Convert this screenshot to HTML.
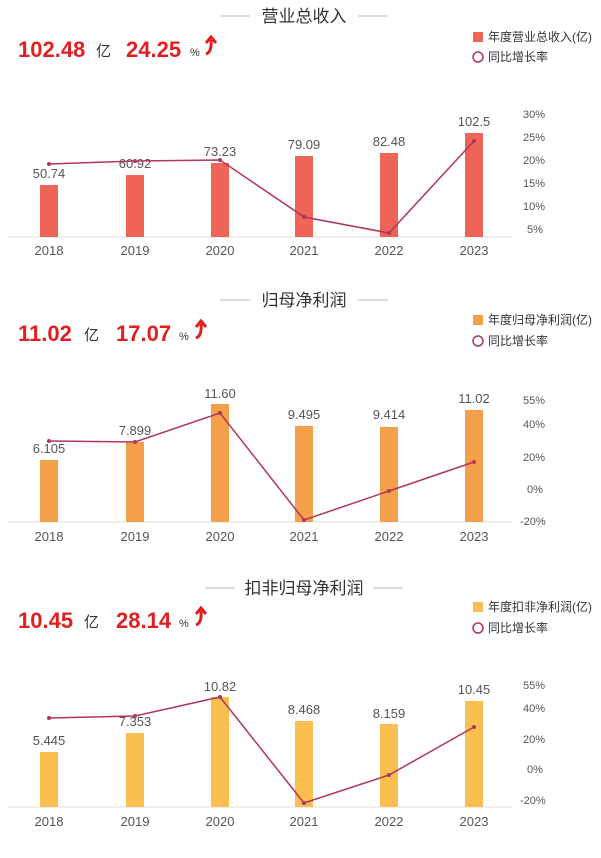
<!DOCTYPE html><html><head><meta charset="utf-8"><style>
body{margin:0;background:#fff;width:601px;height:853px;overflow:hidden;font-family:"Liberation Sans","Noto Sans CJK SC",sans-serif}
svg text{font-family:"Liberation Sans","Noto Sans CJK SC",sans-serif}
</style></head><body>
<svg width="601" height="853" xmlns="http://www.w3.org/2000/svg">
<defs><g id="arr"><path d="M0,14 Q6,12 5,0" fill="none" stroke="#e02020" stroke-width="3"/><path d="M0,3 L5,-3 L10,3" fill="none" stroke="#e02020" stroke-width="3"/></g></defs>
<g id="s1">
<line x1="220" y1="16" x2="250" y2="16" stroke="#bbb"/><line x1="358" y1="16" x2="388" y2="16" stroke="#bbb"/>
<text x="304" y="22" font-size="17" fill="#333" text-anchor="middle">营业总收入</text>
<text x="18" y="57" font-size="22" font-weight="bold" fill="#e02020">102.48</text>
<text x="96" y="56" font-size="15" fill="#333">亿</text>
<text x="126" y="57" font-size="22" font-weight="bold" fill="#e02020">24.25</text>
<text x="190" y="56" font-size="11" fill="#333">%</text>
<use href="#arr" x="206" y="40"/>
<rect x="473" y="32" width="10" height="10" fill="#ee6557"/><text x="488" y="41" font-size="12" fill="#333">年度营业总收入(亿)</text>
<circle cx="478" cy="57" r="5" fill="none" stroke="#b0365a" stroke-width="1.5"/><text x="488" y="61" font-size="12" fill="#333">同比增长率</text>
<line x1="8" y1="237" x2="512" y2="237" stroke="#ddd"/>
<g fill="#ee6557"><rect x="40" y="185" width="18" height="52"/><rect x="126" y="175" width="18" height="62"/><rect x="211" y="163" width="18" height="74"/><rect x="295" y="156" width="18" height="81"/><rect x="380" y="153" width="18" height="84"/><rect x="465" y="133" width="18" height="104"/></g>
<g font-size="13" fill="#555" text-anchor="middle"><text x="49" y="178">50.74</text><text x="135" y="168">60.92</text><text x="220" y="156">73.23</text><text x="304" y="149">79.09</text><text x="389" y="146">82.48</text><text x="474" y="126">102.5</text></g>
<polyline points="49,164 135,161 220,160 304,217 389,233 474,141" fill="none" stroke="#b0365a" stroke-width="1.5"/>
<g fill="#b0365a"><circle cx="49" cy="164" r="2"/><circle cx="135" cy="161" r="2"/><circle cx="220" cy="160" r="2"/><circle cx="304" cy="217" r="2"/><circle cx="389" cy="233" r="2"/><circle cx="474" cy="141" r="2"/></g>
<g font-size="11" fill="#555"><text x="523" y="118">30%</text><text x="523" y="141">25%</text><text x="523" y="164">20%</text><text x="523" y="187">15%</text><text x="523" y="210">10%</text><text x="527" y="233">5%</text></g>
<g font-size="13" fill="#555" text-anchor="middle"><text x="49" y="255">2018</text><text x="135" y="255">2019</text><text x="220" y="255">2020</text><text x="304" y="255">2021</text><text x="389" y="255">2022</text><text x="474" y="255">2023</text></g>
</g>
<g id="s2">
<line x1="220" y1="300" x2="250" y2="300" stroke="#bbb"/><line x1="358" y1="300" x2="388" y2="300" stroke="#bbb"/>
<text x="304" y="306" font-size="17" fill="#333" text-anchor="middle">归母净利润</text>
<text x="18" y="341" font-size="22" font-weight="bold" fill="#e02020">11.02</text>
<text x="84" y="340" font-size="15" fill="#333">亿</text>
<text x="116" y="341" font-size="22" font-weight="bold" fill="#e02020">17.07</text>
<text x="179" y="340" font-size="11" fill="#333">%</text>
<use href="#arr" x="196" y="324"/>
<rect x="473" y="315" width="10" height="10" fill="#f4a04a"/><text x="488" y="324" font-size="12" fill="#333">年度归母净利润(亿)</text>
<circle cx="478" cy="341" r="5" fill="none" stroke="#b0365a" stroke-width="1.5"/><text x="488" y="345" font-size="12" fill="#333">同比增长率</text>
<line x1="8" y1="522" x2="512" y2="522" stroke="#ddd"/>
<g fill="#f4a04a"><rect x="40" y="460" width="18" height="62"/><rect x="126" y="442" width="18" height="80"/><rect x="211" y="404" width="18" height="118"/><rect x="295" y="426" width="18" height="96"/><rect x="380" y="427" width="18" height="95"/><rect x="465" y="410" width="18" height="112"/></g>
<g font-size="13" fill="#555" text-anchor="middle"><text x="49" y="453">6.105</text><text x="135" y="435">7.899</text><text x="220" y="398">11.60</text><text x="304" y="419">9.495</text><text x="389" y="419">9.414</text><text x="474" y="403">11.02</text></g>
<polyline points="49,441 135,442 220,413 304,520 389,491 474,462" fill="none" stroke="#b0365a" stroke-width="1.5"/>
<g fill="#b0365a"><circle cx="49" cy="441" r="2"/><circle cx="135" cy="442" r="2"/><circle cx="220" cy="413" r="2"/><circle cx="304" cy="520" r="2"/><circle cx="389" cy="491" r="2"/><circle cx="474" cy="462" r="2"/></g>
<g font-size="11" fill="#555"><text x="523" y="404">55%</text><text x="523" y="428">40%</text><text x="523" y="461">20%</text><text x="527" y="493">0%</text><text x="520" y="525">-20%</text></g>
<g font-size="13" fill="#555" text-anchor="middle"><text x="49" y="541">2018</text><text x="135" y="541">2019</text><text x="220" y="541">2020</text><text x="304" y="541">2021</text><text x="389" y="541">2022</text><text x="474" y="541">2023</text></g>
</g>
<g id="s3">
<line x1="205" y1="588" x2="235" y2="588" stroke="#bbb"/><line x1="373" y1="588" x2="403" y2="588" stroke="#bbb"/>
<text x="304" y="594" font-size="17" fill="#333" text-anchor="middle">扣非归母净利润</text>
<text x="18" y="628" font-size="22" font-weight="bold" fill="#e02020">10.45</text>
<text x="84" y="627" font-size="15" fill="#333">亿</text>
<text x="116" y="628" font-size="22" font-weight="bold" fill="#e02020">28.14</text>
<text x="179" y="627" font-size="11" fill="#333">%</text>
<use href="#arr" x="196" y="611"/>
<rect x="473" y="602" width="10" height="10" fill="#fbbf4f"/><text x="488" y="611" font-size="12" fill="#333">年度扣非净利润(亿)</text>
<circle cx="478" cy="628" r="5" fill="none" stroke="#b0365a" stroke-width="1.5"/><text x="488" y="632" font-size="12" fill="#333">同比增长率</text>
<line x1="8" y1="807" x2="512" y2="807" stroke="#ddd"/>
<g fill="#fbbf4f"><rect x="40" y="752" width="18" height="55"/><rect x="126" y="733" width="18" height="74"/><rect x="211" y="697" width="18" height="110"/><rect x="295" y="721" width="18" height="86"/><rect x="380" y="724" width="18" height="83"/><rect x="465" y="701" width="18" height="106"/></g>
<g font-size="13" fill="#555" text-anchor="middle"><text x="49" y="745">5.445</text><text x="135" y="726">7.353</text><text x="220" y="691">10.82</text><text x="304" y="714">8.468</text><text x="389" y="718">8.159</text><text x="474" y="694">10.45</text></g>
<polyline points="49,718 135,716 220,697 304,803 389,775 474,727" fill="none" stroke="#b0365a" stroke-width="1.5"/>
<g fill="#b0365a"><circle cx="49" cy="718" r="2"/><circle cx="135" cy="716" r="2"/><circle cx="220" cy="697" r="2"/><circle cx="304" cy="803" r="2"/><circle cx="389" cy="775" r="2"/><circle cx="474" cy="727" r="2"/></g>
<g font-size="11" fill="#555"><text x="523" y="689">55%</text><text x="523" y="712">40%</text><text x="523" y="743">20%</text><text x="527" y="773">0%</text><text x="520" y="804">-20%</text></g>
<g font-size="13" fill="#555" text-anchor="middle"><text x="49" y="826">2018</text><text x="135" y="826">2019</text><text x="220" y="826">2020</text><text x="304" y="826">2021</text><text x="389" y="826">2022</text><text x="474" y="826">2023</text></g>
</g>
</svg>
</body></html>
